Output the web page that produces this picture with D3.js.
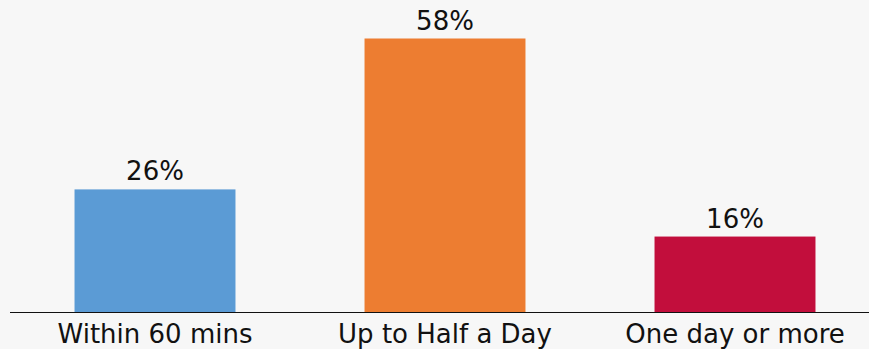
<!DOCTYPE html>
<html>
<head>
<meta charset="utf-8">
<script src="https://cdn.jsdelivr.net/npm/d3@7"></script>
<style>
  html, body { margin: 0; padding: 0; background: #f7f7f7; }
  svg { display: block; }
  text { font-family: "DejaVu Sans", Verdana, sans-serif; fill: #111; }
</style>
</head>
<body>
<svg id="chart" width="869" height="349"></svg>
<script>
// Response time shares
const categories = ["Within 60 mins", "Up to Half a Day", "One day or more"];
const values = [26, 58, 16];
const colors = ["#5b9bd5", "#ed7d31", "#c20e3c"];

const svg = d3.select("#chart");
const width = 869, height = 349;
const baseline = 312;

const x = d3.scaleBand()
  .domain(categories)
  .range([10, 880])
  .paddingInner(0.445)
  .paddingOuter(0.2225);

const y = d3.scaleLinear()
  .domain([0, 58])
  .range([baseline, 38.5]);

svg.append("rect")
  .attr("width", width).attr("height", height)
  .attr("fill", "#f7f7f7");

svg.selectAll("rect.bar")
  .data(values)
  .join("rect")
  .attr("class", "bar")
  .attr("x", (d, i) => x(categories[i]))
  .attr("width", x.bandwidth())
  .attr("y", d => y(d))
  .attr("height", d => baseline - y(d))
  .attr("fill", (d, i) => colors[i]);

svg.selectAll("text.value")
  .data(values)
  .join("text")
  .attr("class", "value")
  .attr("x", (d, i) => x(categories[i]) + x.bandwidth() / 2)
  .attr("y", d => y(d) - 9)
  .attr("text-anchor", "middle")
  .style("font-size", "26px")
  .text(d => d + "%");

// Category axis along the baseline
const axis = d3.axisBottom(x).tickSize(0).tickPadding(0);
const g = svg.append("g")
  .attr("transform", `translate(0,${baseline})`)
  .call(axis);
g.select(".domain").remove();
g.selectAll("text")
  .attr("dy", null)
  .attr("y", 31)
  .style("font-size", "26px")
  .style("font-family", "'DejaVu Sans', Verdana, sans-serif")
  .attr("fill", "#111");

svg.append("line")
  .attr("x1", 10).attr("x2", width)
  .attr("y1", baseline + 0.5).attr("y2", baseline + 0.5)
  .attr("stroke", "#111")
  .attr("stroke-width", 1.2);
</script>
</body>
</html>
